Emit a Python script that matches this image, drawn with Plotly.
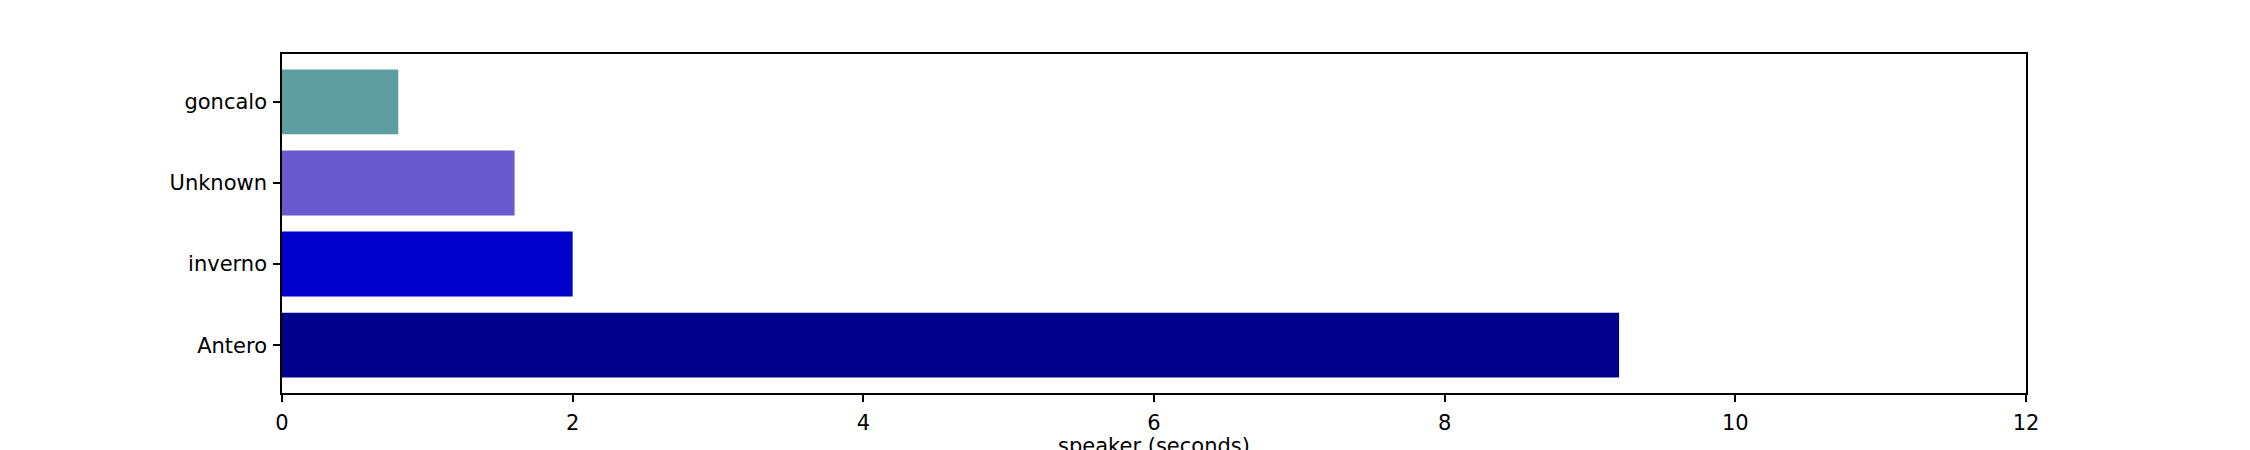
import plotly.graph_objects as go

speakers = ["Antero", "inverno", "Unknown", "goncalo"]
seconds = [9.2, 2.0, 1.6, 0.8]
colors = ["#00008B", "#0000CD", "#6A5ACD", "#5F9EA0"]
x_ticks = [0, 2, 4, 6, 8, 10, 12]

fig = go.Figure()
fig.add_trace(go.Bar(
    x=seconds,
    y=speakers,
    orientation="h",
    marker=dict(color=colors, line=dict(width=0)),
    width=0.8,
))

fig.update_layout(
    width=2250,
    height=450,
    margin=dict(l=274, r=232, t=46, b=65),
    paper_bgcolor="white",
    plot_bgcolor="white",
    showlegend=False,
    font=dict(family="DejaVu Sans", size=21, color="black"),
)
fig.update_xaxes(
    range=[0, 12],
    tickvals=x_ticks,
    ticktext=[str(v) for v in x_ticks],
    showgrid=False,
    zeroline=False,
    showline=True,
    linecolor="black",
    linewidth=1.6,
    mirror=True,
    ticks="outside",
    ticklen=7,
    tickwidth=1.6,
    tickcolor="black",
    automargin=False,
    ticklabelstandoff=3,
    title=dict(text="speaker (seconds)", standoff=8, font=dict(size=21)),
)
fig.update_yaxes(
    type="category",
    categoryorder="array",
    categoryarray=speakers,
    range=[-0.59, 3.59],
    showgrid=False,
    zeroline=False,
    showline=True,
    linecolor="black",
    linewidth=1.6,
    mirror=True,
    ticks="outside",
    ticklen=7,
    tickwidth=1.6,
    tickcolor="black",
    automargin=False,
    ticklabelstandoff=2,
)

fig.write_html("out.html")
